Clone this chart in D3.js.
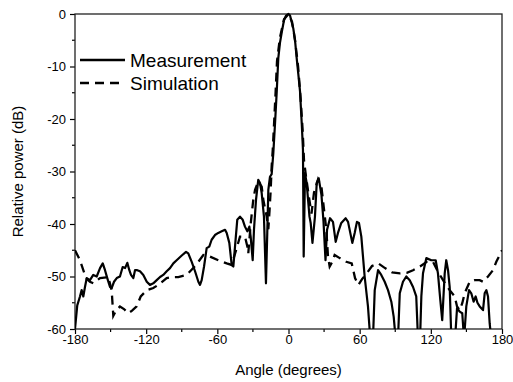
<!DOCTYPE html>
<html><head><meta charset="utf-8">
<script src="https://cdn.jsdelivr.net/npm/d3@7"></script>
<style>body{margin:0;background:#fff;}svg{display:block;font-family:Arial,"Liberation Sans",sans-serif;}</style>
</head><body>
<svg id="c" width="513" height="382"></svg>
<script>
const xTicks = [-180,-120,-60,0,60,120,180];
const yTicks = [0,-10,-20,-30,-40,-50,-60];
const seriesNames = ["Measurement","Simulation"];

const measAngle = [-180,-178.1,-175.8,-174.4,-173,-171.6,-170.1,-167.4,-164.6,-161.7,-158.9,-156.6,-154.7,-152.8,-150.5,-149.1,-147.1,-144.8,-142.1,-139.8,-137.8,-135.9,-134.2,-132.8,-130.8,-129.4,-127.5,-125.2,-122.4,-119.5,-116.8,-114,-111.1,-108.3,-105.6,-102.7,-99.9,-97.1,-94.3,-90,-86.4,-84.5,-81.6,-78.8,-76,-74.6,-73.2,-71.2,-69,-66.8,-64.8,-62,-59.2,-56.3,-53.5,-52.1,-49.9,-47.9,-46.5,-45.1,-43.2,-40.9,-38.6,-36.7,-34.7,-33,-31.9,-30.2,-29.1,-27.4,-25.5,-24,-22.6,-20.7,-19,-17.9,-17,-15.6,-14.2,-12.8,-11.4,-9.9,-8.6,-7.2,-5.7,-3.8,-2.1,0,1.3,4,5.5,6.9,8.3,9.7,11.2,12.2,12.8,13.9,15.3,17.7,18.7,20.2,22.3,23.8,25.5,27.8,29.5,31.2,32.5,35,37.5,39.8,41.7,44.5,48.2,50.2,53.8,55.8,57.7,59.4,61.4,64.2,67,69,71.2,72.7,75.5,78.2,81.1,83.9,86.7,88.7,90.4,92.3,93.8,96.5,99.3,102.2,105,107.7,109.2,110.9,112,113.4,116.2,120.4,124.1,126,128,129.6,131.7,133,134.5,135.9,137.3,140.4,142.1,144.3,146.5,148,149.9,152.2,154.1,156.1,157.8,159.3,161.2,164,165.4,166.8,168.2,169.6,171];
const measDb = [-60,-55.5,-53.8,-52.6,-53.8,-52,-50.3,-50.7,-49.7,-50,-48.4,-47.5,-48.8,-50.3,-52,-52.2,-51,-50.3,-50,-48.2,-48.4,-47.4,-48.8,-49.7,-50.3,-48.8,-48.8,-49,-49.7,-51,-51.6,-51.3,-50.7,-50.1,-49.7,-49,-48.4,-47.5,-46.9,-46,-45.3,-45.6,-47.2,-49,-51,-51.6,-50.7,-48.1,-44.6,-44.3,-43,-42.1,-41.7,-41.4,-41.1,-41.7,-43.6,-47.8,-48.1,-44.3,-39.2,-38.6,-39.2,-40.5,-41.4,-40.5,-42.4,-46.9,-41.1,-35.4,-31.6,-32.2,-34.1,-38.6,-51.3,-41.7,-33.5,-31,-30.5,-26.5,-21,-14.7,-8.4,-5.5,-3.5,-1.2,-0.3,0,-0.3,-2.7,-5,-8.4,-11.5,-14.7,-21,-25.9,-46.2,-30.3,-32.2,-38.6,-39.8,-43.6,-38.6,-32.2,-31.3,-34.5,-39.5,-46.9,-41.1,-38.9,-39.6,-43.4,-41.7,-39.8,-38.9,-39.6,-43.6,-41.7,-39.6,-39.8,-42.4,-50,-55.7,-62,-62,-52.6,-48.8,-49.7,-51,-52.6,-54.8,-57.7,-62,-62,-53.2,-51,-50,-50.7,-52,-53.8,-62,-62,-53.8,-49.4,-46.5,-46.9,-46.9,-49.4,-54.5,-58.3,-49.4,-46.9,-48.8,-52,-62,-62,-56,-56.7,-57,-62,-55.7,-52.6,-53.2,-54.8,-53.8,-55,-55.7,-56.4,-53.2,-52.6,-53.8,-58.9,-62];

const simAngle = [-180,-175.8,-173,-170.7,-167.4,-164.6,-158.9,-151.9,-149.1,-147.7,-145.4,-142.1,-138.7,-135.1,-131.9,-128,-124.6,-119.5,-116.8,-114,-109.8,-102.7,-98.2,-92.9,-85.8,-80.3,-76,-71.8,-66.2,-59.2,-52.1,-47.9,-43.7,-40.9,-36.7,-34.7,-33.9,-31.9,-29.7,-28.2,-25.5,-22.6,-21.2,-18.4,-17,-16,-15,-14.2,-13.3,-12.2,-10.9,-9.7,-7.2,-3.8,0,3,5.5,8.1,10.2,11.9,13.1,14.8,17.3,19.4,21.5,24.9,27.8,30.5,31.9,33.3,34.7,36.9,38.9,43.2,48.7,53.3,56.1,58.9,62,66,70.4,75.7,81.4,87.3,94,99.7,105,110.9,116.5,121.8,126,130.3,135.9,140.1,142.1,144.3,146.5,148.5,152.8,157,161.2,164,168.2,172.4,175.2,178.1,180];
const simDb = [-45,-46.9,-48.8,-50.3,-51,-51.3,-50.3,-50.1,-52.6,-57.5,-56.5,-55.7,-56.2,-57,-56.5,-55.7,-53.8,-52.6,-52.4,-52.2,-51.6,-50.3,-50.1,-50.1,-49.7,-48.4,-47.2,-45.9,-46.2,-46.9,-47.5,-47.8,-44.6,-42.4,-42.4,-44.3,-45.6,-40,-35.4,-33.5,-31.9,-32.9,-35.4,-38.6,-41,-37.5,-33.5,-29,-25.9,-21,-15,-9,-4.5,-1,0,-1.5,-5,-10,-16,-22,-28,-31,-35,-38,-34,-31.5,-33,-38.3,-41.1,-46.2,-48.1,-47.2,-45.9,-46.5,-47.2,-47.5,-50.3,-51.6,-50.5,-49.4,-48,-47.5,-48.4,-49.2,-49.4,-49.3,-48.8,-48.1,-47.2,-47.2,-49.1,-50.7,-52.6,-53.8,-55.7,-56.4,-55.1,-53.2,-51,-50.7,-50.7,-51,-50,-48.8,-47.2,-45.9,-45];

const svg = d3.select("#c");
const L = 75, R = 502, T = 14, B = 329;
const x = d3.scaleLinear().domain([-180,180]).range([L,R]);
const y = d3.scaleLinear().domain([-60,0]).range([B,T]);

svg.append("clipPath").attr("id","clip").append("rect")
  .attr("x",L).attr("y",T-2).attr("width",R-L).attr("height",B-T+2);

const xMinor = d3.range(-150,180,60);
const yMinor = d3.range(-55,0,10);
const ax = svg.append("g").attr("stroke","#000").attr("stroke-width",1.2);
ax.selectAll(".xm").data(xMinor).join("line")
  .attr("x1",d=>x(d)).attr("x2",d=>x(d)).attr("y1",B).attr("y2",B+3);
ax.selectAll(".ym").data(yMinor).join("line")
  .attr("y1",d=>y(d)).attr("y2",d=>y(d)).attr("x1",L).attr("x2",L-3);

const xAxis = svg.append("g").attr("transform",`translate(0,${B})`)
  .call(d3.axisBottom(x).tickValues(xTicks).tickSize(5).tickSizeOuter(0).tickPadding(1));
const yAxis = svg.append("g").attr("transform",`translate(${L},0)`)
  .call(d3.axisLeft(y).tickValues(yTicks).tickSize(5).tickSizeOuter(0).tickPadding(4));
[xAxis,yAxis].forEach(g=>{
  g.select(".domain").remove();
  g.selectAll("line").attr("stroke","#000").attr("stroke-width",1.2);
  g.selectAll("text").attr("font-size",13).attr("fill","#000")
    .attr("font-family","Arial, 'Liberation Sans', sans-serif").text(d=>String(d));
});

svg.append("rect").attr("x",L).attr("y",T).attr("width",R-L).attr("height",B-T)
  .attr("fill","none").attr("stroke","#222").attr("stroke-width",1.3);

const line = d3.line().x(d=>x(d[0])).y(d=>y(d[1]));
const g = svg.append("g").attr("clip-path","url(#clip)");
g.append("path").datum(simAngle.map((a,i)=>[a,simDb[i]])).attr("d",line)
  .attr("fill","none").attr("stroke","#000").attr("stroke-width",2.3).attr("stroke-dasharray","9,6");
g.append("path").datum(measAngle.map((a,i)=>[a,measDb[i]])).attr("d",line)
  .attr("fill","none").attr("stroke","#000").attr("stroke-width",2.2).attr("stroke-linejoin","round");

const leg = svg.append("g");
[[60,null],[83,"9,6"]].forEach((r,i)=>{
  leg.append("line").attr("x1",80).attr("x2",125).attr("y1",r[0]).attr("y2",r[0])
    .attr("stroke","#000").attr("stroke-width",2.3).attr("stroke-dasharray",r[1]);
  leg.append("text").attr("x",130).attr("y",r[0]).attr("dy","0.35em")
    .attr("font-size",19).text(seriesNames[i]);
});

svg.append("text").attr("x",x(0)).attr("y",375).attr("text-anchor","middle")
  .attr("font-size",15).text("Angle (degrees)");
svg.append("text").attr("transform",`translate(23,${(T+B)/2}) rotate(-90)`)
  .attr("text-anchor","middle").attr("font-size",15).text("Relative power (dB)");
</script>
</body></html>
